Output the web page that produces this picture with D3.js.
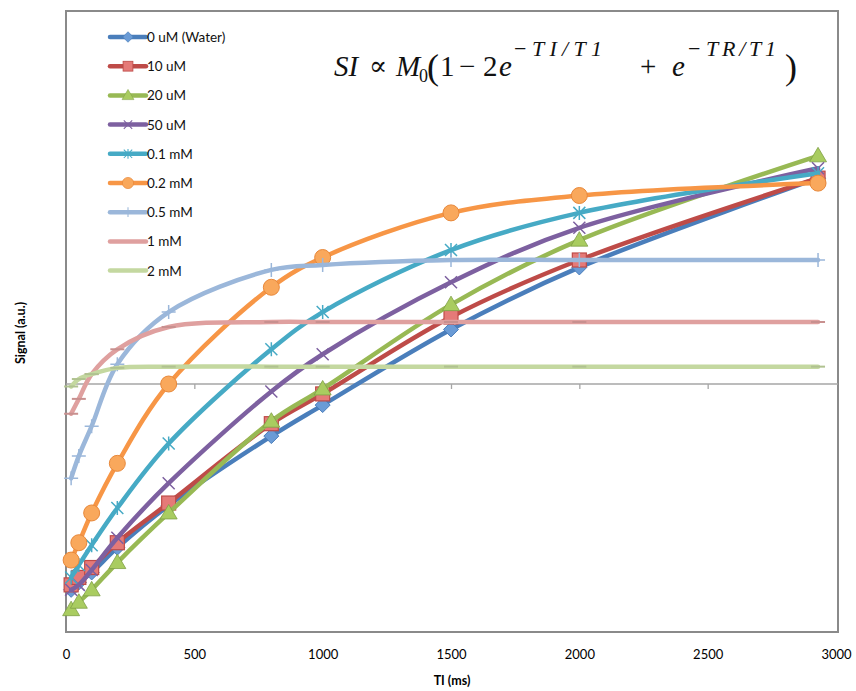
<!DOCTYPE html>
<html><head><meta charset="utf-8">
<script src="https://cdn.jsdelivr.net/npm/d3@7/dist/d3.min.js"></script>
<style>body{margin:0;background:#fff}svg{display:block}</style>
</head><body>
<svg id="c" width="856" height="691"></svg>
<script>
// ---- data ----
const tiValues = [20, 50, 100, 200, 400, 800, 1000, 1500, 2000, 2930];
const seriesNames = ["0 uM (Water)", "10 uM", "20 uM", "50 uM", "0.1 mM", "0.2 mM", "0.5 mM", "1 mM", "2 mM"];
const water   = [-0.83, -0.80, -0.76, -0.66, -0.49, -0.21, -0.085, 0.22, 0.47, 0.83];
const uM10    = [-0.81, -0.78, -0.74, -0.64, -0.48, -0.16, -0.04, 0.27, 0.50, 0.83];
const uM20    = [-0.91, -0.88, -0.83, -0.72, -0.52, -0.15, -0.02, 0.32, 0.58, 0.92];
const uM50    = [-0.83, -0.81, -0.75, -0.62, -0.40, -0.03, 0.12, 0.41, 0.63, 0.87];
const mM01    = [-0.78, -0.73, -0.65, -0.50, -0.24, 0.14, 0.29, 0.54, 0.69, 0.85];
const mM02    = [-0.71, -0.64, -0.52, -0.32, 0.00, 0.39, 0.51, 0.69, 0.76, 0.81];
const mM05    = [-0.38, -0.29, -0.17, 0.08, 0.29, 0.46, 0.48, 0.50, 0.50, 0.50];
const mM1     = [-0.12, -0.06, 0.04, 0.14, 0.23, 0.25, 0.25, 0.25, 0.25, 0.25];
const mM2     = [-0.01, 0.02, 0.04, 0.065, 0.07, 0.07, 0.07, 0.07, 0.07, 0.07];
const xTicks  = [0, 500, 1000, 1500, 2000, 2500, 3000];
const allSeries = [water, uM10, uM20, uM50, mM01, mM02, mM05, mM1, mM2];

// ---- styles ----
const colors  = ["#4A7EBB", "#BE4B48", "#98B954", "#7D60A0", "#46AAC5", "#F79646", "#9BB7DA", "#DFA09F", "#C4D8A0"];
const fills   = ["#6A9BD6", "#E57A78", "#A9CC60", "#7D60A0", "#46AAC5", "#F9A85C", "#9BB7DA", "#DFA09F", "#C4D8A0"];
const markers = ["diamond", "square", "triangle", "x", "star", "circle", "plus", "dash", "dash"];

const svg = d3.select("#c");
const L = 66, R = 838, T = 11, B = 632;
const x = d3.scaleLinear().domain([0, 3000]).range([L, 836]);
const y = d3.scaleLinear().domain([-1, 1.5]).range([B, 12]);

// plot border
svg.append("rect").attr("x", L).attr("y", T).attr("width", R - L).attr("height", B - T)
  .attr("fill", "none").attr("stroke", "#8a8a8a").attr("stroke-width", 2);

// zero axis with ticks
const ax = svg.append("g").attr("transform", `translate(0,${y(0)})`)
  .call(d3.axisBottom(x).tickValues(xTicks).tickSize(5).tickFormat(""));
ax.select(".domain").attr("stroke", "#a6a6a6").attr("stroke-width", 1.3).attr("d", `M${L},0H${R}`);
ax.selectAll(".tick line").attr("stroke", "#a6a6a6").attr("stroke-width", 1.3);
ax.selectAll(".tick").filter(d => d === 0 || d === 3000).select("line").remove();

// tick labels at bottom
const lab = svg.append("g").attr("transform", `translate(0,${B})`)
  .call(d3.axisBottom(x).tickValues(xTicks).tickSize(0).tickPadding(18).tickFormat(d3.format("d")));
lab.select(".domain").remove();
lab.selectAll("text").attr("font-family", "Lato, 'Open Sans', sans-serif").attr("font-size", 13).attr("fill", "#000");

svg.append("text").attr("x", 452).attr("y", 685).attr("text-anchor", "middle")
  .attr("font-family", "Lato, sans-serif").attr("font-weight", "bold").attr("font-size", 12.5).text("TI (ms)");
svg.append("text").attr("transform", "translate(25,333) rotate(-90)").attr("text-anchor", "middle")
  .attr("font-family", "Lato, sans-serif").attr("font-weight", "bold").attr("font-size", 12.5).text("Signal (a.u.)");

// marker drawing
function drawMarker(g, type, cx, cy, col, fill) {
  const s = 7.5;
  if (type === "diamond") {
    g.append("path").attr("d", `M${cx},${cy-s}L${cx+s},${cy}L${cx},${cy+s}L${cx-s},${cy}Z`).attr("fill", fill).attr("stroke", col).attr("stroke-width", 1);
  } else if (type === "square") {
    g.append("rect").attr("x", cx-7).attr("y", cy-7).attr("width", 14).attr("height", 14).attr("fill", fill).attr("stroke", col).attr("stroke-width", 1.2);
  } else if (type === "triangle") {
    g.append("path").attr("d", `M${cx},${cy-8.5}L${cx+8.5},${cy+6}L${cx-8.5},${cy+6}Z`).attr("fill", fill).attr("stroke", "#7f9f45").attr("stroke-width", 0.8);
  } else if (type === "circle") {
    g.append("circle").attr("cx", cx).attr("cy", cy).attr("r", 8).attr("fill", fill).attr("stroke", "#E8883A").attr("stroke-width", 1);
  } else if (type === "x") {
    g.append("path").attr("d", `M${cx-6},${cy-6}L${cx+6},${cy+6}M${cx-6},${cy+6}L${cx+6},${cy-6}`).attr("stroke", col).attr("stroke-width", 1.5);
  } else if (type === "star") {
    g.append("path").attr("d", `M${cx-6},${cy-6}L${cx+6},${cy+6}M${cx-6},${cy+6}L${cx+6},${cy-6}M${cx},${cy-7}L${cx},${cy+7}`).attr("stroke", col).attr("stroke-width", 1.5);
  } else if (type === "plus") {
    g.append("path").attr("d", `M${cx-7},${cy}L${cx+7},${cy}M${cx},${cy-7}L${cx},${cy+7}`).attr("stroke", col).attr("stroke-width", 1.5);
  } else if (type === "dash") {
    g.append("path").attr("d", `M${cx-7},${cy}L${cx+7},${cy}`).attr("stroke", d3.color(col).darker(0.3)).attr("stroke-width", 2);
  }
}

const line = d3.line().x((d, i) => x(tiValues[i])).y(d => y(d)).curve(d3.curveCatmullRom.alpha(0.5));

// each series: line then its markers, in series order
allSeries.forEach((vals, k) => {
  const g = svg.append("g");
  g.append("path").attr("d", line(vals)).attr("fill", "none")
    .attr("stroke", colors[k]).attr("stroke-width", 4.5).attr("stroke-linejoin", "round").attr("stroke-linecap", "round");
  vals.forEach((v, i) => drawMarker(g, markers[k], x(tiValues[i]), y(v), colors[k], fills[k]));
});

// legend
const lg = svg.append("g");
seriesNames.forEach((name, k) => {
  const ly = 37 + k * 29.2;
  lg.append("line").attr("x1", 110).attr("x2", 146).attr("y1", ly).attr("y2", ly)
    .attr("stroke", colors[k]).attr("stroke-width", 4.5).attr("stroke-linecap", "round");
  const mg = lg.append("g");
  if (markers[k] !== "dash") drawMarker(mg, markers[k], 128, ly, colors[k], fills[k]);
  mg.attr("transform", `translate(128,${ly}) scale(0.7) translate(-128,${-ly})`);
  lg.append("text").attr("x", 147).attr("y", ly + 5).attr("font-family", "Lato, sans-serif")
    .attr("font-size", 13.5).attr("fill", "#111").text(name);
});

// formula: pieces placed individually
const fg = svg.append("g").attr("font-family", "'Liberation Serif', 'DejaVu Serif', serif").attr("fill", "#111");
function piece(txt, px, py, size, italic, len) {
  const t = fg.append("text").attr("x", px).attr("y", py).attr("font-size", size)
    .attr("font-style", italic ? "italic" : "normal").text(txt);
  if (len) t.attr("textLength", len).attr("lengthAdjust", "spacing");
  return t;
}
piece("SI", 334, 76, 29, true);
piece("∝", 369, 75, 27, false);
piece("M", 396, 76, 29, true);
piece("0", 419, 82, 18, false);
piece("(", 427, 79, 36, false);
piece("1", 440, 76, 29, false);
piece("−", 459, 76, 29, false);
piece("2", 483, 76, 29, false);
piece("e", 499, 76, 29, true);
piece("−", 514, 56, 22, false);
piece("TI/T1", 532, 56, 22, true, 70);
piece("+", 640, 76, 29, false);
piece("e", 672, 76, 29, true);
piece("−", 688, 56, 22, false);
piece("TR/T1", 706, 56, 22, true, 70);
piece(")", 785, 79, 36, false);
</script>
</body></html>
